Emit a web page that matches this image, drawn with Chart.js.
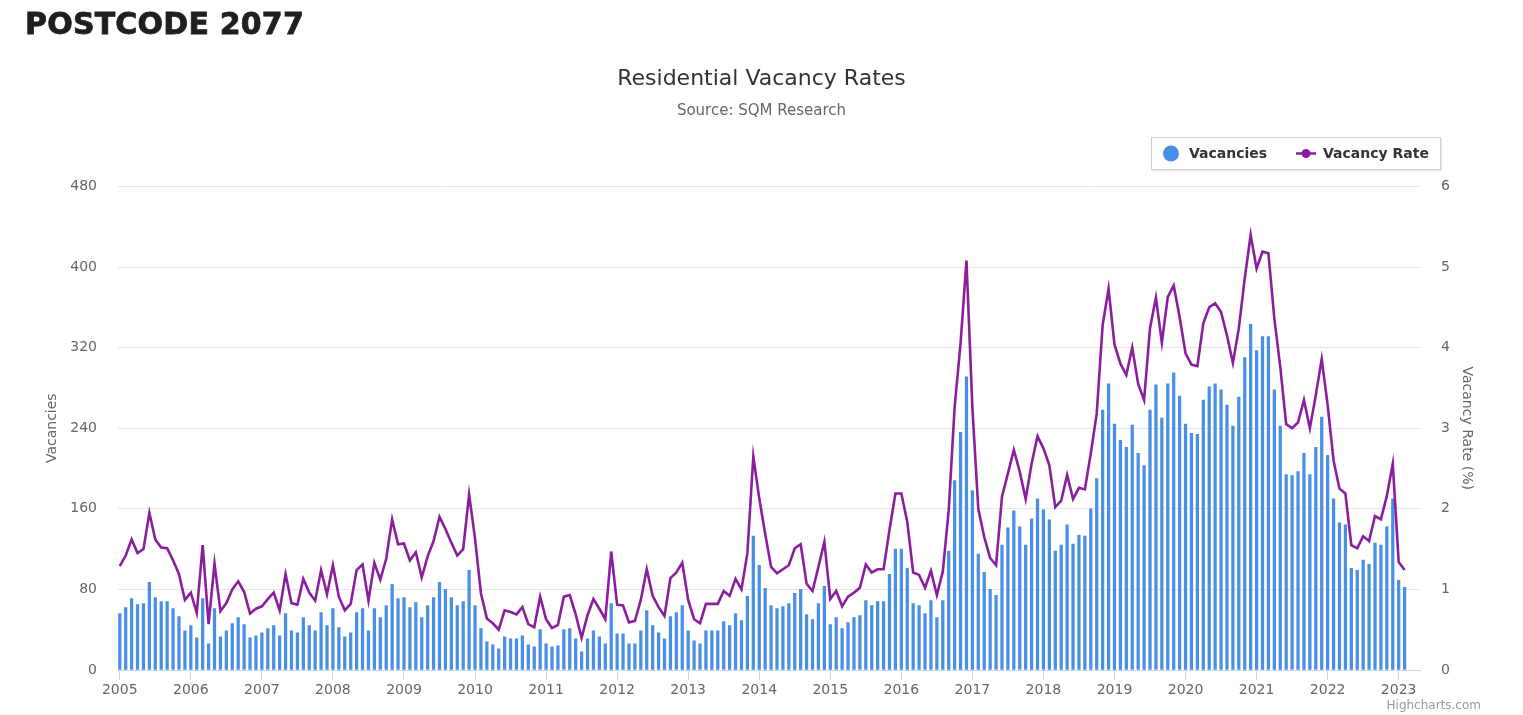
<!DOCTYPE html>
<html>
<head>
<meta charset="utf-8">
<title>Postcode 2077 - Residential Vacancy Rates</title>
<script src="https://cdn.jsdelivr.net/npm/chart.js@4.4.1/dist/chart.umd.min.js"></script>
<style>
    html, body { margin: 0; padding: 0; background: #ffffff; }
    #wrap { position: relative; width: 1523px; height: 715px; }
    #heading {
        position: absolute; left: 25px; top: 6px; margin: 0;
        font-family: 'DejaVu Sans', sans-serif; font-weight: bold; font-size: 30px;
        letter-spacing: 0.2px; color: #1f1f21; z-index: 2;
        -webkit-text-stroke: 0.8px #1f1f21;
    }
    #vacancyChart { position: absolute; left: 0; top: 0; }
</style>
</head>
<body>
<div id="wrap">
    <h1 id="heading">POSTCODE 2077</h1>
    <canvas id="vacancyChart" width="1523" height="715"></canvas>
</div>
<script>
// Monthly series, Jan 2005 .. Feb 2023
const startYear = 2005;
const yearLabels = ['2005', '2006', '2007', '2008', '2009', '2010', '2011', '2012', '2013',
    '2014', '2015', '2016', '2017', '2018', '2019', '2020', '2021', '2022', '2023'];

const vacancies = [
    56, 62, 71, 65, 66, 87, 72, 68, 68, 61, 53, 39,          // 2005
    44, 32, 71, 26, 61, 33, 39, 46, 52, 45, 32, 34,          // 2006
    37, 41, 44, 34, 56, 39, 37, 52, 44, 39, 57, 44,          // 2007
    61, 42, 33, 37, 57, 61, 39, 61, 52, 64, 85, 71,          // 2008
    72, 62, 67, 52, 64, 72, 87, 80, 72, 64, 68, 99,          // 2009
    64, 41, 28, 25, 21, 33, 31, 31, 34, 25, 23, 40,          // 2010
    26, 23, 24, 40, 41, 31, 18, 31, 39, 33, 26, 66,          // 2011
    36, 36, 26, 26, 39, 59, 44, 37, 31, 53, 57, 64,          // 2012
    39, 29, 26, 39, 39, 39, 48, 44, 56, 49, 73, 133,         // 2013
    104, 81, 64, 61, 63, 66, 76, 80, 55, 50, 66, 83,         // 2014
    45, 52, 41, 47, 52, 54, 69, 64, 68, 68, 95, 120,         // 2015
    120, 101, 66, 64, 56, 69, 52, 69, 118, 188, 236, 291,    // 2016
    178, 115, 97, 80, 74, 124, 141, 158, 142, 124, 150, 170, // 2017
    159, 149, 118, 124, 144, 125, 134, 133, 160, 190, 258, 284, // 2018
    244, 228, 221, 243, 215, 203, 258, 283, 250, 284, 295, 272, // 2019
    244, 235, 234, 268, 281, 284, 278, 263, 242, 271, 310, 343, // 2020
    317, 331, 331, 278, 242, 194, 193, 197, 215, 194, 221, 251, // 2021
    213, 170, 146, 144, 101, 99, 109, 105, 126, 124, 142, 170,  // 2022
    89, 82                                                    // 2023
];

const vacancyRate = [
    1.29, 1.42, 1.62, 1.45, 1.50, 1.95, 1.62, 1.52, 1.51, 1.36, 1.19, 0.87,
    0.96, 0.71, 1.55, 0.57, 1.32, 0.73, 0.83, 1.00, 1.10, 0.97, 0.70, 0.76,
    0.79, 0.88, 0.96, 0.74, 1.19, 0.83, 0.81, 1.13, 0.96, 0.86, 1.24, 0.94,
    1.30, 0.91, 0.74, 0.82, 1.24, 1.31, 0.86, 1.33, 1.12, 1.38, 1.87, 1.56,
    1.57, 1.36, 1.46, 1.15, 1.41, 1.60, 1.90, 1.75, 1.58, 1.42, 1.50, 2.18,
    1.63, 0.95, 0.64, 0.58, 0.50, 0.74, 0.72, 0.69, 0.78, 0.57, 0.53, 0.91,
    0.63, 0.52, 0.56, 0.91, 0.93, 0.69, 0.40, 0.68, 0.88, 0.76, 0.63, 1.47,
    0.81, 0.80, 0.59, 0.61, 0.87, 1.25, 0.92, 0.78, 0.67, 1.14, 1.21, 1.33,
    0.87, 0.63, 0.58, 0.82, 0.82, 0.82, 0.98, 0.92, 1.13, 1.00, 1.45, 2.65,
    2.13, 1.69, 1.28, 1.20, 1.25, 1.30, 1.51, 1.56, 1.07, 0.98, 1.28, 1.59,
    0.88, 0.98, 0.79, 0.91, 0.96, 1.02, 1.31, 1.21, 1.25, 1.25, 1.74, 2.19,
    2.19, 1.84, 1.21, 1.18, 1.02, 1.23, 0.93, 1.22, 1.98, 3.26, 4.05, 5.08,
    3.25, 2.00, 1.65, 1.39, 1.30, 2.15, 2.44, 2.73, 2.46, 2.12, 2.56, 2.90,
    2.75, 2.54, 2.02, 2.10, 2.42, 2.12, 2.26, 2.24, 2.69, 3.18, 4.28, 4.73,
    4.04, 3.80, 3.66, 4.00, 3.55, 3.35, 4.24, 4.62, 4.06, 4.63, 4.77, 4.38,
    3.93, 3.79, 3.77, 4.30, 4.50, 4.55, 4.44, 4.15, 3.81, 4.24, 4.86, 5.40,
    4.98, 5.19, 5.17, 4.36, 3.76, 3.05, 3.00, 3.07, 3.35, 3.00, 3.41, 3.86,
    3.29, 2.60, 2.25, 2.19, 1.55, 1.51, 1.66, 1.60, 1.91, 1.87, 2.16, 2.56,
    1.34, 1.24
];

const barColor = '#4a8fe6';
const lineColor = '#8b1e9f';
const axisTextColor = '#666666';
const gridColor = '#e6e6e6';
const axisLineColor = '#ccd6eb';

// Draws the bordered legend box and the credits line (Highcharts style)
const legendAndCredits = {
    id: 'legendAndCredits',
    afterDraw(chart) {
        const ctx = chart.ctx;
        const area = chart.chartArea;
        const boxRight = area.right + 21;
        const boxLeft = boxRight - 290;
        const boxTop = 137;
        const boxH = 33;
        const midY = boxTop + boxH / 2;

        ctx.save();
        // soft shadow + box
        ctx.fillStyle = 'rgba(0,0,0,0.07)';
        ctx.fillRect(boxLeft + 1.5, boxTop + 1.5, 290, boxH);
        ctx.fillStyle = '#ffffff';
        ctx.fillRect(boxLeft, boxTop, 290, boxH);
        ctx.strokeStyle = '#cfcfcf';
        ctx.lineWidth = 1;
        ctx.strokeRect(boxLeft + 0.5, boxTop + 0.5, 289, boxH - 1);

        ctx.font = 'bold 14px "DejaVu Sans"';
        ctx.textBaseline = 'middle';
        ctx.fillStyle = '#333333';

        // Vacancies (bar series)
        const barSet = chart.data.datasets[1];
        ctx.beginPath();
        ctx.arc(boxLeft + 20, midY, 8, 0, Math.PI * 2);
        ctx.fillStyle = barSet.backgroundColor;
        ctx.fill();
        ctx.fillStyle = '#333333';
        ctx.fillText(barSet.label, boxLeft + 38, midY + 1);

        // Vacancy Rate (line series)
        const lineSet = chart.data.datasets[0];
        const lx = boxLeft + 145;
        ctx.strokeStyle = lineSet.borderColor;
        ctx.lineWidth = 2.5;
        ctx.beginPath();
        ctx.moveTo(lx, midY);
        ctx.lineTo(lx + 20, midY);
        ctx.stroke();
        ctx.beginPath();
        ctx.arc(lx + 10, midY, 4.5, 0, Math.PI * 2);
        ctx.fillStyle = lineSet.borderColor;
        ctx.fill();
        ctx.fillStyle = '#333333';
        ctx.fillText(lineSet.label, lx + 27, midY + 1);

        // credits
        ctx.font = '12px "DejaVu Sans"';
        ctx.fillStyle = '#999999';
        ctx.textAlign = 'right';
        ctx.fillText('Highcharts.com', 1481, 706);
        ctx.restore();
    }
};

function renderChart() {
    Chart.defaults.font.family = '"DejaVu Sans", sans-serif';
    Chart.defaults.color = axisTextColor;

    const ctx = document.getElementById('vacancyChart').getContext('2d');

    new Chart(ctx, {
        data: {
            datasets: [
                {
                    type: 'line',
                    label: 'Vacancy Rate',
                    data: vacancyRate.map((v, i) => ({ x: i, y: v })),
                    yAxisID: 'yRate',
                    borderColor: lineColor,
                    backgroundColor: lineColor,
                    borderWidth: 2.6,
                    pointRadius: 0,
                    tension: 0,
                    order: 0
                },
                {
                    type: 'bar',
                    label: 'Vacancies',
                    data: vacancies.map((v, i) => ({ x: i, y: v })),
                    yAxisID: 'y',
                    backgroundColor: barColor,
                    borderWidth: 0,
                    barThickness: 2.6,
                    order: 1
                }
            ]
        },
        options: {
            responsive: false,
            animation: false,
            layout: { padding: 0 },
            scales: {
                x: {
                    type: 'linear',
                    offset: false,
                    min: -0.3,
                    max: 219.6,
                    afterBuildTicks: (scale) => {
                        scale.ticks = yearLabels.map((_, i) => ({ value: i * 12 }));
                    },
                    afterFit: (scale) => { scale.height = 45; },
                    ticks: {
                        callback: (value) => yearLabels[Math.round(value / 12)],
                        font: { size: 14 },
                        color: axisTextColor,
                        padding: 2,
                        maxRotation: 0,
                        autoSkip: false
                    },
                    grid: {
                        offset: false,
                        drawOnChartArea: false,
                        drawTicks: true,
                        tickLength: 10,
                        color: axisLineColor
                    },
                    border: { color: axisLineColor, width: 1 }
                },
                y: {
                    position: 'left',
                    min: 0,
                    max: 480,
                    afterFit: (scale) => { scale.width = 118; },
                    ticks: {
                        stepSize: 80,
                        font: { size: 14 },
                        color: axisTextColor,
                        padding: 21
                    },
                    grid: { color: gridColor, drawTicks: false },
                    border: { display: false },
                    title: {
                        display: true,
                        text: 'Vacancies',
                        font: { size: 14 },
                        color: axisTextColor,
                        padding: { top: 44, bottom: 0 }
                    }
                },
                yRate: {
                    position: 'right',
                    min: 0,
                    max: 6,
                    afterFit: (scale) => { scale.width = 103; },
                    ticks: {
                        stepSize: 1,
                        font: { size: 14 },
                        color: axisTextColor,
                        padding: 21
                    },
                    grid: { drawOnChartArea: false, drawTicks: false },
                    border: { display: false },
                    title: {
                        display: true,
                        text: 'Vacancy Rate (%)',
                        font: { size: 14 },
                        color: axisTextColor,
                        padding: { top: 48, bottom: 0 }
                    }
                }
            },
            plugins: {
                legend: { display: false },
                tooltip: { enabled: true, mode: 'index', intersect: false },
                title: {
                    display: true,
                    text: 'Residential Vacancy Rates',
                    color: '#333333',
                    font: { size: 22, weight: 'normal' },
                    padding: { top: 66, bottom: 0 }
                },
                subtitle: {
                    display: true,
                    text: 'Source: SQM Research',
                    color: axisTextColor,
                    font: { size: 15, weight: 'normal' },
                    padding: { top: 10, bottom: 66 }
                }
            }
        },
        plugins: [legendAndCredits]
    });
}

if (document.readyState === 'loading') {
    document.addEventListener('DOMContentLoaded', renderChart);
} else {
    renderChart();
}
</script>
</body>
</html>
